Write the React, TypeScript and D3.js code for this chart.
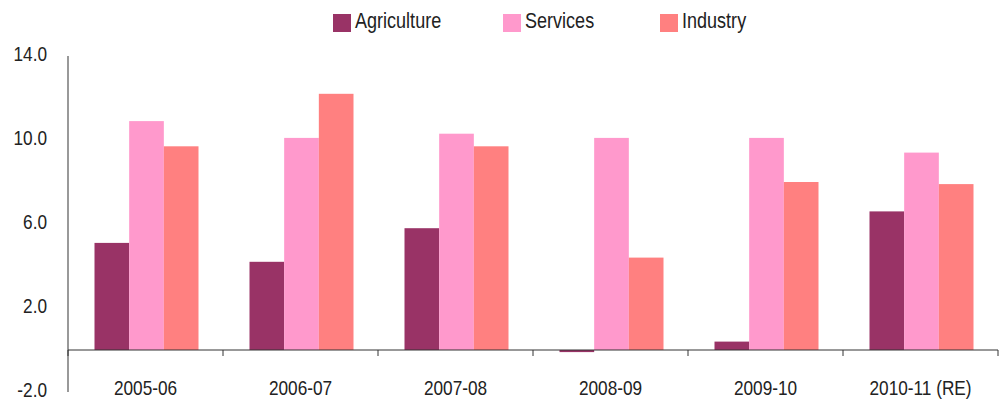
import React, {useEffect, useRef} from 'react';
import * as d3 from "d3";

const categories = ["2005-06", "2006-07", "2007-08", "2008-09", "2009-10", "2010-11 (RE)"];
const seriesNames = ["Agriculture", "Services", "Industry"];
const agriculture = [5.1, 4.2, 5.8, -0.1, 0.4, 6.6];
const services = [10.9, 10.1, 10.3, 10.1, 10.1, 9.4];
const industry = [9.7, 12.2, 9.7, 4.4, 8.0, 7.9];
const yTicks = [14, 10, 6, 2, -2];
const colors = ["#993366", "#FF99CC", "#FF8080"];

const FONT = "'Liberation Sans', Arial, sans-serif";
const NARROW = 0.82; // squeeze to look like Arial Narrow

export default function App() {
    const ref = useRef<SVGSVGElement>(null);

    useEffect(() => {
        const svg = d3.select(ref.current);
        svg.selectAll("*").remove();

        const values = [agriculture, services, industry];

        const x0 = d3.scaleBand().domain(categories).range([68, 998]);
        const x1 = d3.scaleBand().domain(seriesNames).range([26.5, 130.5]);
        const y = d3.scaleLinear().domain([-2, 14]).range([392, 56]);

        // bars
        categories.forEach((c, i) => {
            const g = svg.append("g").attr("transform", `translate(${x0(c)},0)`);
            seriesNames.forEach((s, j) => {
                const v = values[j][i];
                g.append("rect")
                    .attr("x", x1(s))
                    .attr("width", x1.bandwidth())
                    .attr("y", y(Math.max(0, v)))
                    .attr("height", Math.abs(y(v) - y(0)))
                    .attr("fill", colors[j]);
            });
        });

        // y axis
        svg.append("line")
            .attr("x1", 68).attr("x2", 68)
            .attr("y1", y(14)).attr("y2", y(-2))
            .attr("stroke", "#777").attr("stroke-width", 1.5);

        svg.selectAll(".ylab").data(yTicks).enter().append("text")
            .attr("transform", d => `translate(47,${y(d) + 5}) scale(${NARROW},1)`)
            .attr("text-anchor", "end")
            .attr("font-family", FONT)
            .attr("font-size", 21)
            .attr("fill", "#222")
            .text(d => d.toFixed(1));

        // x axis at zero
        svg.append("line")
            .attr("x1", 68).attr("x2", 998)
            .attr("y1", y(0)).attr("y2", y(0))
            .attr("stroke", "#333").attr("stroke-width", 1);

        const tickXs = categories.map(c => x0(c) as number).concat([998]);
        svg.selectAll(".xtick").data(tickXs).enter().append("line")
            .attr("x1", d => d).attr("x2", d => d)
            .attr("y1", y(0)).attr("y2", y(0) + 6)
            .attr("stroke", "#333").attr("stroke-width", 1);

        svg.selectAll(".xlab").data(categories).enter().append("text")
            .attr("transform", d => `translate(${(x0(d) as number) + x0.bandwidth() / 2},395) scale(${NARROW},1)`)
            .attr("text-anchor", "middle")
            .attr("font-family", FONT)
            .attr("font-size", 21)
            .attr("fill", "#222")
            .text(d => d);

        // legend
        const legendX = [333, 503, 660];
        seriesNames.forEach((s, j) => {
            svg.append("rect")
                .attr("x", legendX[j]).attr("y", 14)
                .attr("width", 18).attr("height", 18)
                .attr("fill", colors[j]);
            svg.append("text")
                .attr("transform", `translate(${legendX[j] + 22},28) scale(${NARROW},1)`)
                .attr("font-family", FONT)
                .attr("font-size", 22)
                .attr("fill", "#222")
                .text(s);
        });
    }, []);

    return (
        <svg ref={ref} width={1003} height={400}
             style={{position: "absolute", left: 0, top: 0, background: "#fff"}}/>
    );
}
